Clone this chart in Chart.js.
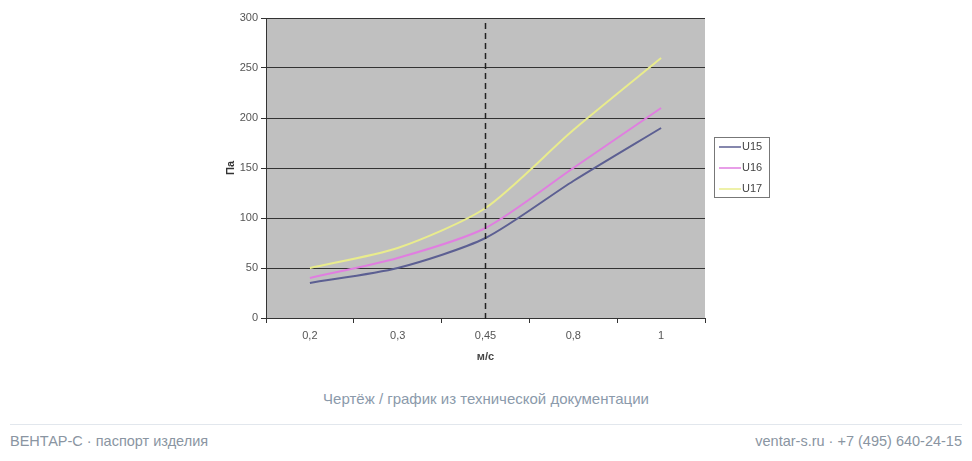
<!DOCTYPE html>
<html>
<head>
<meta charset="utf-8">
<script src="https://cdn.jsdelivr.net/npm/chart.js@4/dist/chart.umd.min.js"></script>
<style>
  body { margin: 0; background: #fff; width: 972px; height: 461px; overflow: hidden; position: relative; font-family: "Liberation Sans", Arial, sans-serif; }
  #wrap { position: absolute; left: 0; top: 0; width: 972px; height: 380px; }
  .caption { position: absolute; left: 0; width: 972px; top: 390px; text-align: center; font-size: 15px; line-height: 18px; color: #8b9aab; }
  .rule { position: absolute; left: 10px; right: 10px; top: 424px; height: 1px; background: #e2e7ed; }
  .foot { position: absolute; top: 432px; font-size: 14.5px; line-height: 18px; color: #8a95a2; }
</style>
</head>
<body>
<div id="wrap"><canvas id="myChart"></canvas></div>
<div class="caption">Чертёж / график из технической документации</div>
<div class="rule"></div>
<div class="foot" style="left:10px">ВЕНТАР-С · паспорт изделия</div>
<div class="foot" style="right:10px">ventar-s.ru · +7 (495) 640-24-15</div>
<script>
// скорость, м/с
var speeds = ['0,2', '0,3', '0,45', '0,8', '1'];
// потери давления, Па
var u15 = [35, 50, 80, 137, 190];
var u16 = [40, 60, 90, 150, 210];
var u17 = [50, 70, 110, 188, 260];
var markIndex = 2; // пунктир на 0,45

var names = ['U15', 'U16', 'U17'];
var colors = ['#5c5f92', '#e07ee0', '#e9ec8c'];

// серый фон области построения
var plotBg = {
  id: 'plotBg',
  beforeDraw: function(chart){
    var a = chart.chartArea, ctx = chart.ctx;
    ctx.save();
    ctx.fillStyle = '#c0c0c0';
    ctx.fillRect(a.left, a.top, a.right - a.left, a.bottom - a.top);
    ctx.restore();
  }
};

// вертикальная пунктирная линия
var dashLine = {
  id: 'dashLine',
  afterDatasetsDraw: function(chart){
    var x = chart.scales.x.getPixelForValue(markIndex), a = chart.chartArea, ctx = chart.ctx;
    ctx.save();
    ctx.strokeStyle = '#222';
    ctx.lineWidth = 1.5;
    ctx.setLineDash([6, 4]);
    ctx.beginPath();
    ctx.moveTo(x, a.top + 5);
    ctx.lineTo(x, a.bottom + 3);
    ctx.stroke();
    ctx.restore();
  }
};

// легенда в рамке, как в Excel
var boxLegend = {
  id: 'boxLegend',
  afterDraw: function(chart){
    var a = chart.chartArea, ctx = chart.ctx;
    var left = a.right + 9, w = 55, h = 60;
    var top = (a.top + a.bottom) / 2 - h / 2 - 1;
    ctx.save();
    ctx.fillStyle = '#fff';
    ctx.fillRect(left, top, w, h);
    ctx.strokeStyle = '#777';
    ctx.lineWidth = 1;
    ctx.strokeRect(left + 0.5, top + 0.5, w, h);
    ctx.font = '11px "Liberation Sans", Arial, sans-serif';
    ctx.textBaseline = 'middle';
    chart.data.datasets.forEach(function(ds, i){
      var y = top + 10 + i * 21;
      ctx.strokeStyle = ds.borderColor;
      ctx.lineWidth = 1.5;
      ctx.beginPath();
      ctx.moveTo(left + 5, y);
      ctx.lineTo(left + 27, y);
      ctx.stroke();
      ctx.fillStyle = '#444';
      ctx.fillText(ds.label, left + 28, y);
    });
    ctx.restore();
  }
};

function makeSet(i, values){
  return {
    label: names[i],
    data: values,
    borderColor: colors[i],
    backgroundColor: colors[i],
    borderWidth: 2,
    pointRadius: 0,
    tension: 0.25,
    fill: false
  };
}

var ctx = document.getElementById('myChart').getContext('2d');
var myChart = new Chart(ctx, {
  type: 'line',
  data: {
    labels: speeds,
    datasets: [makeSet(0, u15), makeSet(1, u16), makeSet(2, u17)]
  },
  plugins: [plotBg, dashLine, boxLegend],
  options: {
    responsive: true,
    maintainAspectRatio: false,
    animation: false,
    layout: { padding: { left: 220, right: 267, top: 18, bottom: 12 } },
    plugins: { legend: { display: false }, tooltip: { enabled: false } },
    scales: {
      x: {
        offset: true,
        afterFit: function(s){ s.height = 50; },
        grid: { offset: true, drawOnChartArea: false, color: '#333', tickLength: 5, lineWidth: 1 },
        border: { color: '#333' },
        ticks: { color: '#555', padding: 6, font: { size: 11, family: '"Liberation Sans", Arial, sans-serif' } },
        title: { display: true, text: 'м/с', color: '#444', padding: { top: 0, bottom: 4 },
                 font: { size: 11, weight: 'bold', family: '"Liberation Sans", Arial, sans-serif' } }
      },
      y: {
        min: 0, max: 300,
        afterFit: function(s){ s.width = 46; },
        ticks: { stepSize: 50, color: '#555', padding: 3, font: { size: 11, family: '"Liberation Sans", Arial, sans-serif' } },
        grid: { color: '#333', tickLength: 5, lineWidth: 1 },
        border: { color: '#333' },
        title: { display: true, text: 'Па', color: '#333', padding: { top: 4, bottom: 0 },
                 font: { size: 11, weight: 'bold', family: '"Liberation Sans", Arial, sans-serif' } }
      }
    }
  }
});
</script>
</body>
</html>
